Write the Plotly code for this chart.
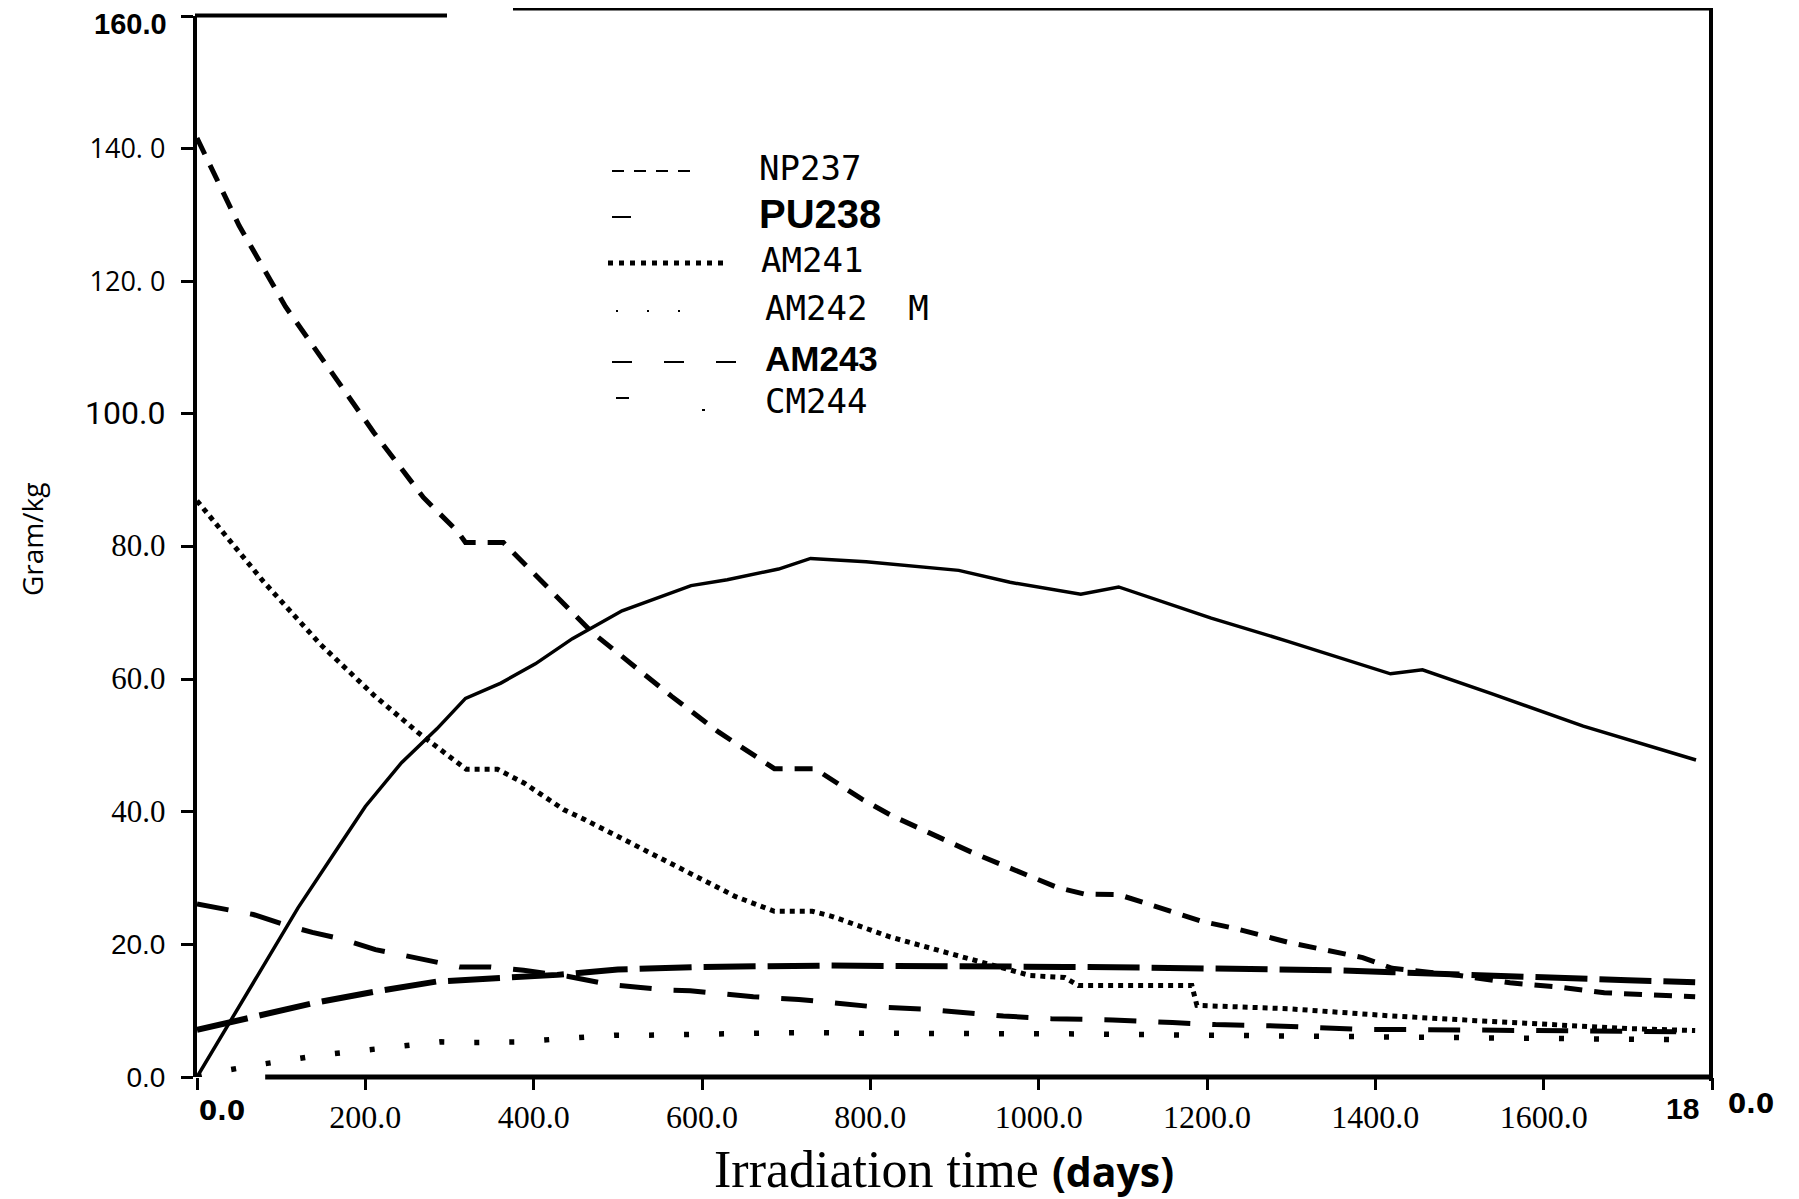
import plotly.graph_objects as go

# ---------------- data ----------------
np237_days = [0, 50, 105, 155, 210, 269, 310, 319, 364, 469, 564, 620, 686, 734, 760, 790, 824, 857,
              890, 922, 989, 1022, 1054, 1095, 1125, 1159, 1196, 1230, 1265, 1300, 1335, 1385, 1420,
              1500, 1560, 1623, 1672, 1746, 1780]
np237_vals = [141.6, 128.4, 116.2, 107.0, 97.2, 87.4, 82.2, 80.6, 80.6, 67.1, 57.4, 52.0, 46.5, 46.5,
              44.4, 41.9, 39.5, 37.6, 35.6, 33.8, 30.3, 28.6, 27.6, 27.5, 26.3, 24.9, 23.4, 22.5, 21.4,
              20.2, 19.3, 18.0, 16.4, 15.3, 14.2, 13.5, 12.7, 12.2, 12.1]

pu238_days = [0, 34, 80, 120, 166, 200, 243, 285, 319, 361, 402, 446, 505, 587, 630, 691, 729, 795,
              905, 966, 1050, 1095, 1205, 1296, 1418, 1456, 1538, 1647, 1781]
pu238_vals = [0.0, 7.2, 17.0, 25.5, 34.3, 40.8, 47.4, 52.5, 57.1, 59.4, 62.3, 66.1, 70.3, 74.1, 75.0,
              76.6, 78.2, 77.7, 76.4, 74.6, 72.8, 73.9, 69.2, 65.7, 60.8, 61.4, 57.8, 52.9, 47.8]

am241_days = [0, 42, 79, 147, 210, 263, 309, 320, 357, 389, 436, 461, 546, 593, 640, 686, 731, 755,
              781, 824, 878, 920, 990, 1031, 1047, 1182, 1188, 1296, 1370, 1420, 1520, 1600, 1700, 1780]
am241_vals = [86.9, 80.5, 74.7, 65.2, 57.6, 51.9, 47.4, 46.4, 46.4, 44.3, 40.3, 38.8, 33.3, 30.3, 27.2,
              25.0, 25.0, 24.2, 23.0, 21.1, 19.2, 17.7, 15.3, 15.0, 13.8, 13.8, 10.8, 10.3, 9.6, 9.2,
              8.5, 7.9, 7.3, 7.0]

am242m_days = [0, 30, 76, 109, 146, 182, 218, 254, 290, 326, 384, 425, 461, 497, 531, 600, 715, 800,
               922, 1050, 1200, 1400, 1600, 1780]
am242m_vals = [0.0, 0.9, 1.9, 2.6, 3.3, 3.8, 4.3, 4.9, 5.3, 5.2, 5.3, 5.7, 6.1, 6.3, 6.3, 6.4, 6.7,
               6.6, 6.6, 6.5, 6.3, 6.0, 5.7, 5.6]

am243_days = [0, 37, 67, 103, 137, 173, 212, 240, 277, 312, 349, 388, 440, 492, 527, 561, 586, 661,
              715, 803, 868, 958, 1015, 1088, 1159, 1210, 1282, 1377, 1500, 1650, 1780]
am243_vals = [26.1, 25.3, 24.5, 23.0, 21.8, 20.8, 19.2, 18.5, 17.6, 16.6, 16.6, 16.1, 15.2, 13.9, 13.5,
              13.1, 13.0, 12.1, 11.7, 10.6, 10.2, 9.2, 8.8, 8.6, 8.2, 7.9, 7.7, 7.2, 7.1, 7.0, 6.8]

cm244_days = [0, 70, 140, 212, 285, 355, 428, 500, 597, 749, 900, 1032, 1130, 1200, 1290, 1350, 1420,
              1500, 1600, 1700, 1780]
cm244_vals = [7.1, 9.15, 11.2, 12.9, 14.4, 14.9, 15.4, 16.2, 16.6, 16.8, 16.8, 16.6, 16.5, 16.4, 16.3,
              16.1, 15.8, 15.4, 15.0, 14.6, 14.3]

legend_labels = ["NP237", "PU238", "AM241", "AM242  M", "AM243", "CM244"]

x_tick_vals = [0, 200, 400, 600, 800, 1000, 1200, 1400, 1600, 1800]
x_tick_text = ["", "200.0", "400.0", "600.0", "800.0", "1000.0", "1200.0", "1400.0", "1600.0", ""]
y_tick_vals = [0, 20, 40, 60, 80, 100, 120, 140, 160]
y_tick_text = ["0.0", "20.0", "40.0", "60.0", "80.0", "100.0", "120. 0", "140. 0", "160.0"]

# ---------------- layout geometry ----------------
# page coordinates (1799x1199 window); the html body adds an 8px offset
OFF = 8
W, H = 1799 - OFF, 1199 - OFF
PLOT_L, PLOT_R, PLOT_T, PLOT_B = 197, 1712, 16, 1077   # page px of the plot frame
L = PLOT_L - OFF
T = PLOT_T - OFF
R = W - (PLOT_R - OFF)
B = H - (PLOT_B - OFF)
PW, PH = W - L - R, H - T - B


def px_x(px):
    return (px - PLOT_L) / PW


def px_y(py):
    return (PLOT_B - py) / PH


fig = go.Figure()

traces = [
    (np237_days, np237_vals, "NP237", 5, "18px,12px"),
    (pu238_days, pu238_vals, "PU238", 3.5, "solid"),
    (am241_days, am241_vals, "AM241", 5, "5px,5px"),
    (am242m_days, am242m_vals, "AM242 M", 5.5, "5px,30px"),
    (am243_days, am243_vals, "AM243", 5, "32px,22px"),
    (cm244_days, cm244_vals, "CM244", 6, "52px,12px"),
]
for xs, ys, name, w, dash in traces:
    fig.add_trace(go.Scatter(x=xs, y=ys, mode="lines", name=name,
                             line=dict(color="black", width=w, dash=dash),
                             showlegend=False, hoverinfo="skip"))

# y tick labels in mixed fonts (as in the scanned original); the top one is drawn
# separately so it is not cut by the page edge
y_fonts = ["Liberation Sans", "Liberation Sans", "Liberation Serif", "Liberation Serif",
           "Liberation Serif", "Roboto", "Open Sans", "Open Sans", "Liberation Sans"]
y_sizes = [28, 28, 31, 31, 31, 32, 27, 27, 30]
y_weights = ["normal"] * 8 + ["bold"]
y_tick_rich = [
    f'<span style="font-family:{f};font-size:{s}px;font-weight:{wt}">{t}</span>'
    for t, f, s, wt in zip(y_tick_text, y_fonts, y_sizes, y_weights)
]
y_tick_rich[-1] = ""

fig.update_layout(
    width=W, height=H,
    margin=dict(l=L, r=R, t=T, b=B, pad=0, autoexpand=False),
    paper_bgcolor="white", plot_bgcolor="white",
    showlegend=False,
    xaxis=dict(range=[0, 1800], showgrid=False, zeroline=False, showline=False,
               automargin=False,
               tickmode="array", tickvals=x_tick_vals, ticktext=x_tick_text,
               ticks="outside", ticklen=12, tickwidth=3, tickcolor="black",
               tickfont=dict(family="Liberation Serif", size=32, color="black")),
    yaxis=dict(range=[0, 160], showgrid=False, zeroline=False,
               showline=True, linewidth=4, linecolor="black", automargin=False,
               tickmode="array", tickvals=y_tick_vals, ticktext=y_tick_rich,
               ticks="outside", ticklen=12, tickwidth=3, tickcolor="black",
               ticklabelstandoff=10, ticklabeloverflow="allow",
               tickfont=dict(family="Liberation Sans", size=28, color="black")),
)

shapes = []
# bottom axis line (broken near the origin as in the original)
shapes.append(dict(type="line", xref="x", yref="paper", x0=81, x1=1806, y0=0, y1=0,
                   line=dict(color="black", width=5)))
# top border (two pieces) and right border
shapes.append(dict(type="line", xref="paper", yref="paper", x0=px_x(195), x1=px_x(447),
                   y0=px_y(15.5), y1=px_y(15.5), line=dict(color="black", width=4)))
shapes.append(dict(type="line", xref="paper", yref="paper", x0=px_x(513), x1=px_x(1709),
                   y0=px_y(9), y1=px_y(9), line=dict(color="black", width=3)))
shapes.append(dict(type="line", xref="paper", yref="paper", x0=px_x(1711), x1=px_x(1711),
                   y0=px_y(8), y1=px_y(1081), line=dict(color="black", width=4)))

# legend samples
leg_rows = [171, 217, 263, 311, 362, 404]
shapes.append(dict(type="line", xref="paper", yref="paper", x0=px_x(612), x1=px_x(698),
                   y0=px_y(leg_rows[0]), y1=px_y(leg_rows[0]),
                   line=dict(color="black", width=2, dash="12px,10px")))
shapes.append(dict(type="line", xref="paper", yref="paper", x0=px_x(612), x1=px_x(631),
                   y0=px_y(leg_rows[1]), y1=px_y(leg_rows[1]),
                   line=dict(color="black", width=2)))
shapes.append(dict(type="line", xref="paper", yref="paper", x0=px_x(608), x1=px_x(727),
                   y0=px_y(leg_rows[2]), y1=px_y(leg_rows[2]),
                   line=dict(color="black", width=5, dash="5px,6px")))
shapes.append(dict(type="line", xref="paper", yref="paper", x0=px_x(616), x1=px_x(708),
                   y0=px_y(leg_rows[3]), y1=px_y(leg_rows[3]),
                   line=dict(color="black", width=2, dash="2px,29px")))
shapes.append(dict(type="line", xref="paper", yref="paper", x0=px_x(612), x1=px_x(736),
                   y0=px_y(leg_rows[4]), y1=px_y(leg_rows[4]),
                   line=dict(color="black", width=2, dash="20px,32px")))
shapes.append(dict(type="line", xref="paper", yref="paper", x0=px_x(616), x1=px_x(629),
                   y0=px_y(398), y1=px_y(398), line=dict(color="black", width=2)))
shapes.append(dict(type="line", xref="paper", yref="paper", x0=px_x(702), x1=px_x(705),
                   y0=px_y(410), y1=px_y(410), line=dict(color="black", width=2)))
fig.update_layout(shapes=shapes)

annotations = []
leg_fonts = [
    dict(family="DejaVu Sans Mono", size=34, color="black"),
    dict(family="Liberation Sans", size=40, color="black"),
    dict(family="DejaVu Sans Mono", size=34, color="black"),
    dict(family="DejaVu Sans Mono", size=34, color="black"),
    dict(family="Liberation Sans", size=35, color="black"),
    dict(family="DejaVu Sans Mono", size=34, color="black"),
]
leg_x = [757, 757, 759, 763, 763, 763]
for lab, fnt, lx, ly in zip(legend_labels, leg_fonts, leg_x, leg_rows):
    txt = f"<b>{lab}</b>" if lab in ("PU238", "AM243") else lab
    annotations.append(dict(text=txt, xref="paper", yref="paper", x=px_x(lx), y=px_y(ly - 3),
                            xanchor="left", yanchor="middle", showarrow=False, font=fnt))

# top y tick label (kept inside the page)
annotations.append(dict(text=f"<b>{y_tick_text[-1]}</b>", xref="paper", yref="paper",
                        x=px_x(169), y=px_y(6), xanchor="right", yanchor="top", showarrow=False,
                        font=dict(family="Liberation Sans", size=29, color="black")))

# x tick labels that sit off their ticks in the original
annotations.append(dict(text="<b>0.0</b>", xref="paper", yref="paper", x=px_x(222), y=px_y(1111),
                        xanchor="center", yanchor="middle", showarrow=False,
                        font=dict(family="DejaVu Sans", size=26, color="black")))
annotations.append(dict(text="<b>18</b>", xref="paper", yref="paper", x=px_x(1701), y=px_y(1108),
                        xanchor="right", yanchor="middle", showarrow=False,
                        font=dict(family="Liberation Sans", size=30, color="black")))
annotations.append(dict(text="<b>0.0</b>", xref="paper", yref="paper", x=px_x(1726), y=px_y(1104),
                        xanchor="left", yanchor="middle", showarrow=False,
                        font=dict(family="DejaVu Sans", size=26, color="black")))

# axis titles
annotations.append(dict(text="Gram/kg", xref="paper", yref="paper", x=px_x(32), y=px_y(540),
                        xanchor="center", yanchor="middle", textangle=-90, showarrow=False,
                        font=dict(family="Open Sans", size=28, color="black")))
annotations.append(dict(
    text='Irradiation time <span style="font-family:Open Sans;font-size:41px;font-weight:bold">(days)</span>',
    xref="paper", yref="paper", x=px_x(944), y=px_y(1170), xanchor="center", yanchor="middle",
    showarrow=False, font=dict(family="Liberation Serif", size=52, color="black")))

fig.update_layout(annotations=annotations)

fig.write_html("out.html")
